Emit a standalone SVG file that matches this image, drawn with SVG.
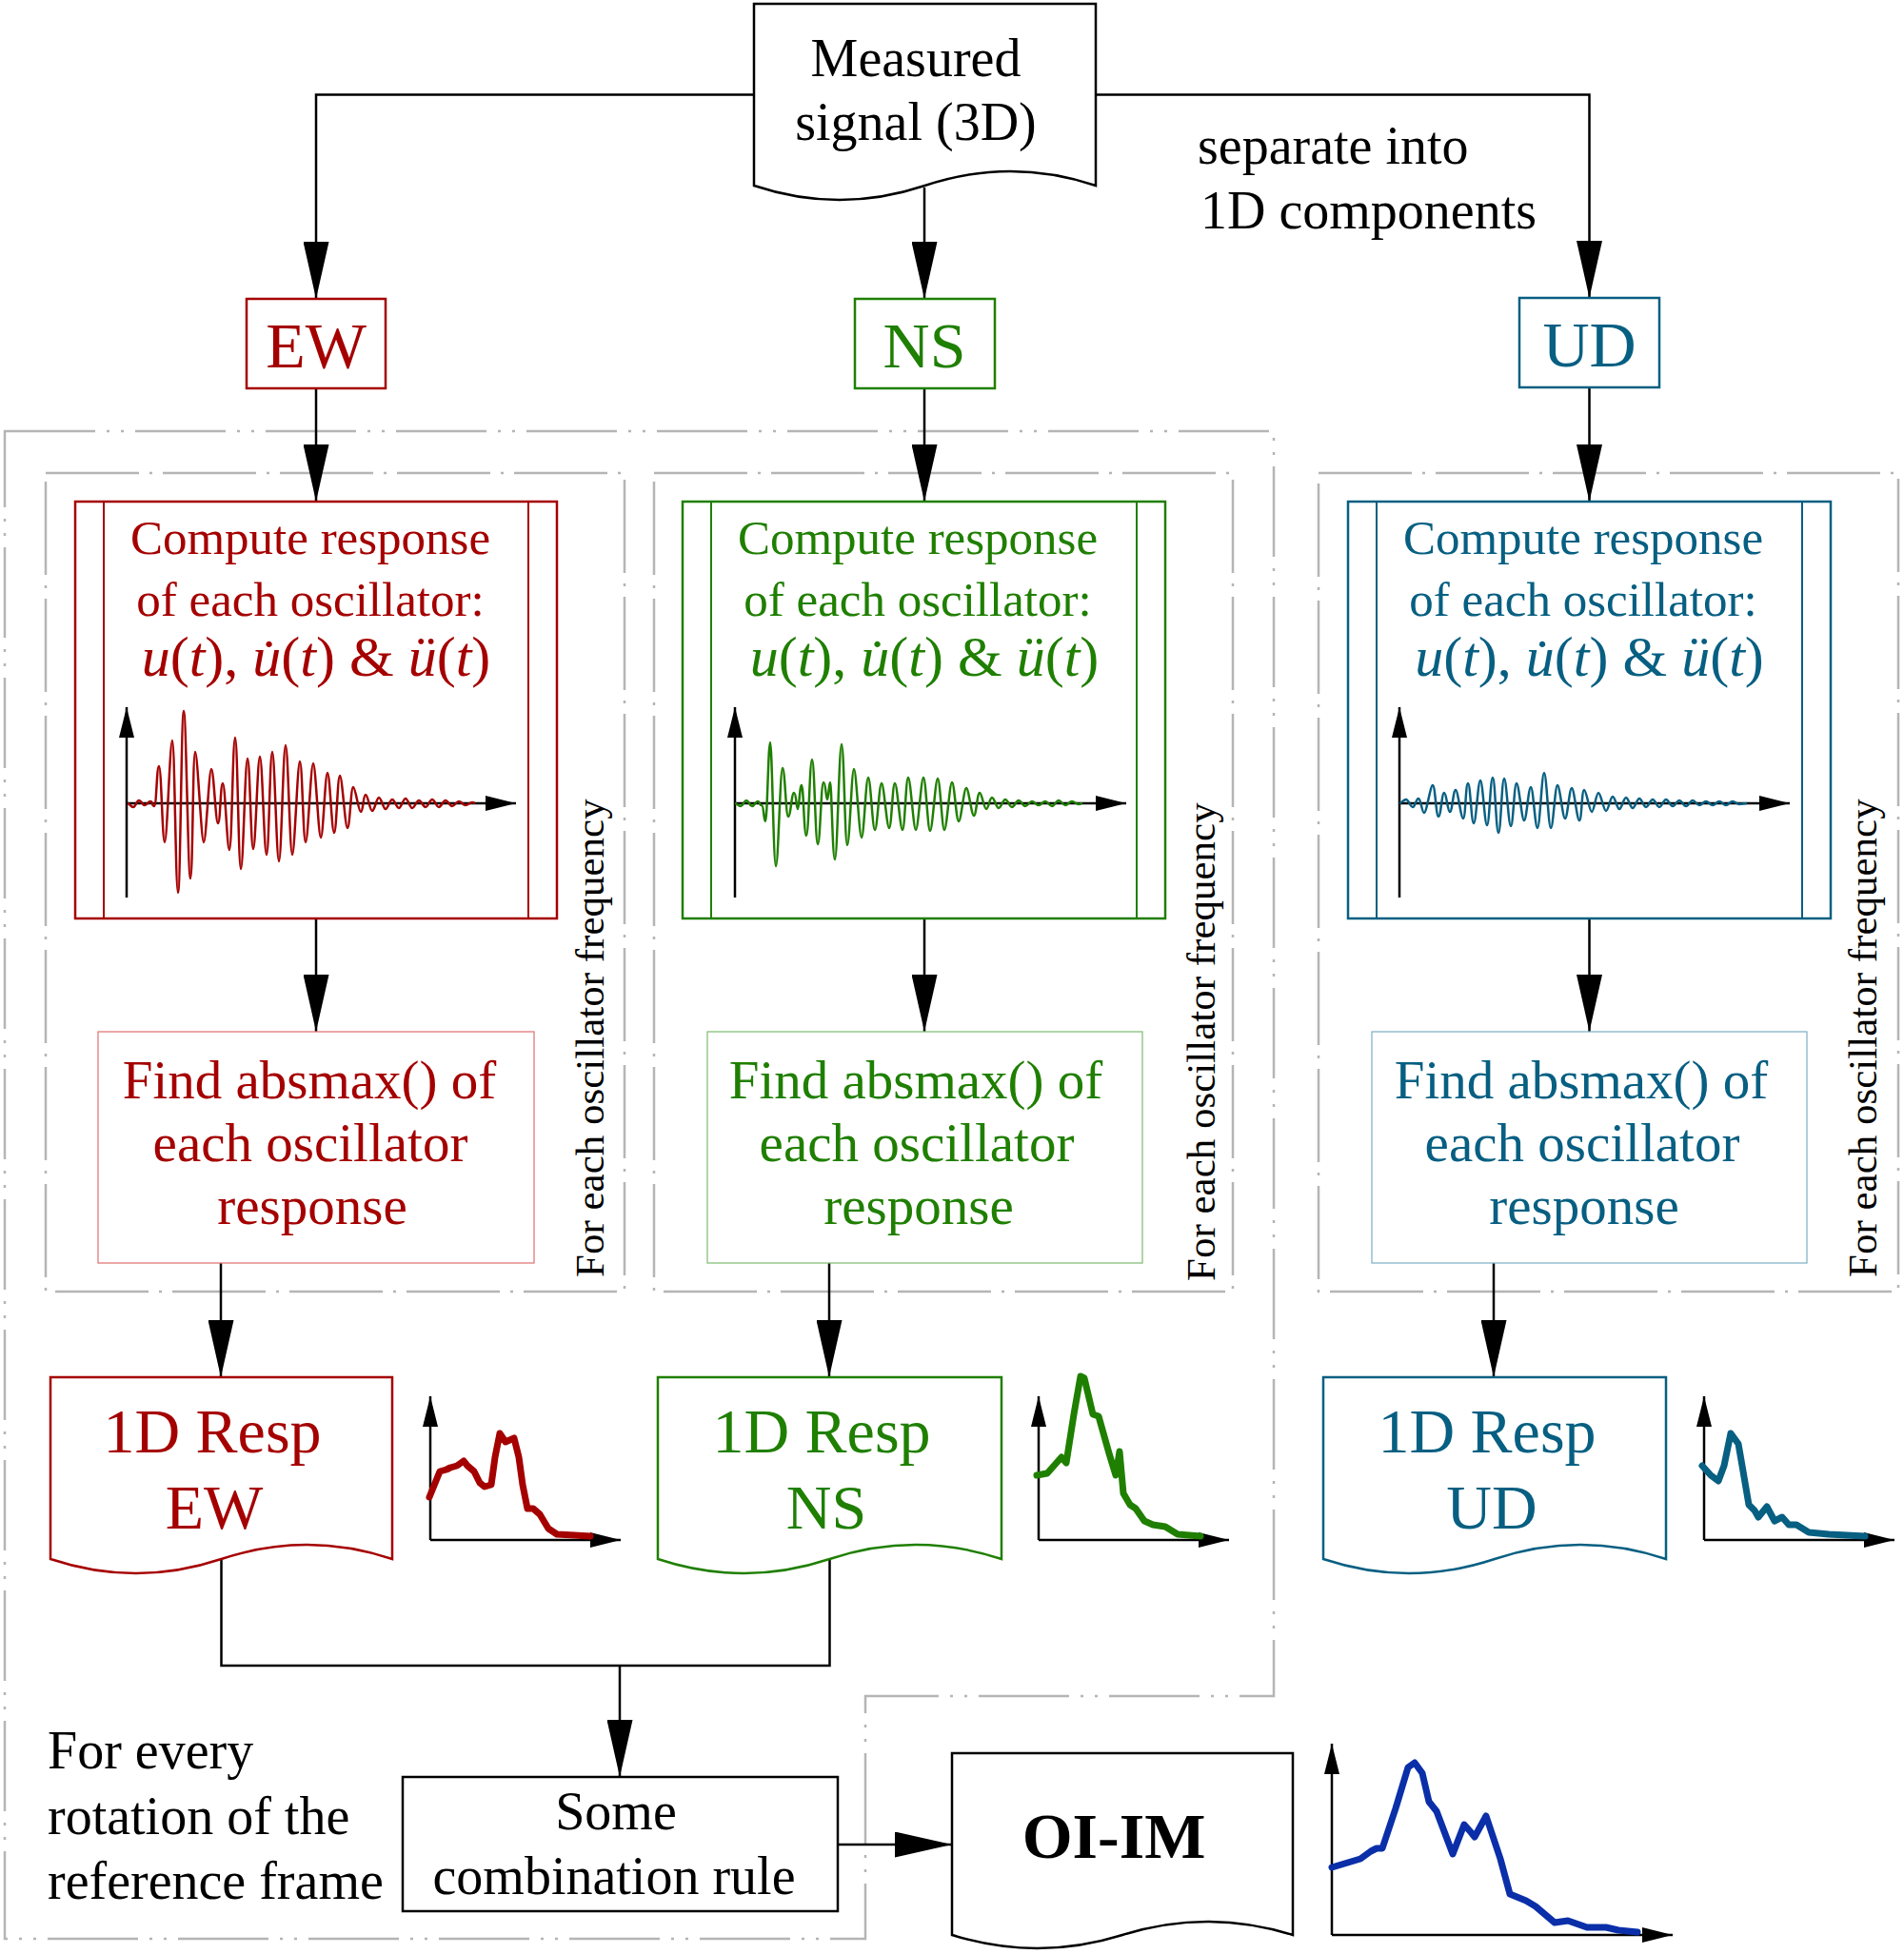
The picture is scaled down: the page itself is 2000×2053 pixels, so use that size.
<svg xmlns="http://www.w3.org/2000/svg" width="2000" height="2053" viewBox="0 0 2000 2053">
<style>
text{font-family:"Liberation Serif","Times New Roman",serif}
.conn{stroke:#000;stroke-width:2.5;fill:none}
.axis{stroke:#000;stroke-width:2.5;fill:none}
.fo{stroke:#b5b5b5;stroke-width:2.5;fill:none;stroke-dasharray:95 12 3 12 3 12}
.fi{stroke:#b5b5b5;stroke-width:2.5;fill:none;stroke-dasharray:98 11 3 11}
.red{fill:#a50000}.grn{fill:#1f7f00}.blu{fill:#075f82}
.sred{stroke:#a50000}.sgrn{stroke:#1f7f00}.sblu{stroke:#075f82}
.box{fill:#fff;stroke-width:2.5}
.find{fill:#fff;stroke-width:1.3}
.wave{fill:none;stroke-width:2.5}
.spec{fill:none;stroke-width:7;stroke-linejoin:round;stroke-linecap:round}
.t56{font-size:56px}
.t51{font-size:51px}
.math{font-size:60px}
.t57{font-size:57px}
.t66{font-size:66px}
.t68{font-size:68px}
.rot{font-size:43px;fill:#000}
</style>
<defs>
<marker id="ah" viewBox="0 0 60 27" refX="60" refY="13.5" markerWidth="60" markerHeight="27" orient="auto" markerUnits="userSpaceOnUse"><path d="M0,0 L60,13.5 L0,27 Z" fill="#000"/></marker>
<marker id="sa" viewBox="0 0 32 16" refX="32" refY="8" markerWidth="32" markerHeight="16" orient="auto" markerUnits="userSpaceOnUse"><path d="M0,0 L32,8 L0,16 Z" fill="#000"/></marker>
</defs>
<rect width="2000" height="2053" fill="#fff"/>

<g id="frames">
<path class="fo" d="M5,453 H1338 V1782 H909 V2037 H5 Z"/>
<rect class="fi" x="48" y="497" width="608" height="860"/>
<rect class="fi" x="687" y="497" width="608" height="860"/>
<rect class="fi" x="1385" y="497" width="609" height="860"/>
<text class="rot" transform="translate(634,1342) rotate(-90)">For each oscillator frequency</text>
<text class="rot" transform="translate(1276,1346) rotate(-90)">For each oscillator frequency</text>
<text class="rot" transform="translate(1971,1342) rotate(-90)">For each oscillator frequency</text>
</g>

<g id="connectors">
<path class="conn" d="M792,99.5 H332 V314" marker-end="url(#ah)"/>
<path class="conn" d="M1151,99.5 H1669.5 V313" marker-end="url(#ah)"/>
<path class="conn" d="M971,197 V314" marker-end="url(#ah)"/>
<path class="conn" d="M332,408 V527" marker-end="url(#ah)"/>
<path class="conn" d="M971,408 V527" marker-end="url(#ah)"/>
<path class="conn" d="M1669.5,407 V527" marker-end="url(#ah)"/>
<path class="conn" d="M332,965 V1084" marker-end="url(#ah)"/>
<path class="conn" d="M971,965 V1084" marker-end="url(#ah)"/>
<path class="conn" d="M1669.5,965 V1084" marker-end="url(#ah)"/>
<path class="conn" d="M232,1327 V1447" marker-end="url(#ah)"/>
<path class="conn" d="M871,1327 V1447" marker-end="url(#ah)"/>
<path class="conn" d="M1569,1327 V1447" marker-end="url(#ah)"/>
<path class="conn" d="M232.5,1638 V1750 H871.5 V1638"/>
<path class="conn" d="M651,1750 V1867" marker-end="url(#ah)"/>
<path class="conn" d="M880,1938 H1000" marker-end="url(#ah)"/>
</g>

<g id="measured">
<path d="M792,195 V4 H1151 V195 Q1061.25,165 971.5,195 Q881.75,225 792,195 Z" fill="#fff" stroke="#000" stroke-width="2.5"/>
<text class="t56" x="962" y="80" text-anchor="middle">Measured</text>
<text class="t56" x="962" y="147" text-anchor="middle">signal (3D)</text>
</g>
<g id="separate-label">
<text class="t56" x="1258" y="172">separate into</text>
<text class="t56" x="1261" y="240">1D components</text>
</g>

<g id="ew">
<rect class="box sred" x="259" y="314" width="146" height="94"/>
<text class="t68 red" x="332" y="386" text-anchor="middle">EW</text>
</g>
<g id="ns">
<rect class="box sgrn" x="898" y="314" width="147" height="94"/>
<text class="t68 grn" x="971" y="386" text-anchor="middle">NS</text>
</g>
<g id="ud">
<rect class="box sblu" x="1596" y="313" width="147" height="94"/>
<text class="t68 blu" x="1669.5" y="385" text-anchor="middle">UD</text>
</g>

<g id="compute-ew">
<rect class="box sred" x="79" y="527" width="506" height="438"/>
<path class="sred" stroke-width="2" d="M109,527 V965 M555,527 V965"/>
<text class="t51 red" text-anchor="middle"><tspan x="326" y="582">Compute response</tspan><tspan x="326" y="647">of each oscillator:</tspan></text>
<text class="math red" x="332" y="710" text-anchor="middle"><tspan font-style="italic">u</tspan>(<tspan font-style="italic">t</tspan>), <tspan font-style="italic">u&#x307;</tspan>(<tspan font-style="italic">t</tspan>) &amp; <tspan font-style="italic">ü</tspan>(<tspan font-style="italic">t</tspan>)</text>
<path class="axis" d="M133,943 V743" marker-end="url(#sa)"/>
<path class="axis" d="M133,844 H542" marker-end="url(#sa)"/>
<path class="wave sred" d="M134,844 C136,844 137.5,848 140,848 S143.5,841 146,841 S149.5,846 152,846 S155.5,842 158,842 S159.5,847 162,847 S164.5,805 167,805 S170.5,885 173,885 S178.5,778 181,778 S184.5,938 187,938 S190.5,747 193,747 S197.5,923 200,923 S202.5,790 205,790 S211.5,885 214,885 S219.5,808 222,808 S226.5,865 229,865 S231.5,823 234,823 S238.5,893 241,893 S244.5,775 247,775 S250.5,913 253,913 S257.5,797 260,797 S263.5,892 266,892 S270.5,795 273,795 S277.5,898 280,898 S283.5,790 286,790 S290.5,905 293,905 S297.5,783 300,783 S304.5,898 307,898 S312.5,800 315,800 S318.5,885 321,885 S326.5,802 329,802 S334.5,880 337,880 S341.5,812 344,812 S348.5,875 351,875 S354.5,815 357,815 S362.5,870 365,870 S368.5,827 371,827 S376.5,853 379,853 S381.5,835 384,835 S388.5,852 391,852 S395.5,838 398,838 S402.5,850 405,850 S409.5,840 412,840 S416.5,849 419,849 S423.5,839 426,839 S430.5,849 433,849 S437.5,841 440,841 S444.5,848 447,848 S451.5,840 454,840 S458.5,848 461,848 S465.5,841 468,841 S472.5,847 475,847 S479.5,842 482,842 S486.5,846 489,846 S493.5,843 496,843 S498,844 499,844"/>
</g>

<g id="compute-ns">
<rect class="box sgrn" x="717" y="527" width="507" height="438"/>
<path class="sgrn" stroke-width="2" d="M747,527 V965 M1194,527 V965"/>
<text class="t51 grn" text-anchor="middle"><tspan x="964" y="582">Compute response</tspan><tspan x="964" y="647">of each oscillator:</tspan></text>
<text class="math grn" x="971" y="710" text-anchor="middle"><tspan font-style="italic">u</tspan>(<tspan font-style="italic">t</tspan>), <tspan font-style="italic">u&#x307;</tspan>(<tspan font-style="italic">t</tspan>) &amp; <tspan font-style="italic">ü</tspan>(<tspan font-style="italic">t</tspan>)</text>
<path class="axis" d="M772,943 V743" marker-end="url(#sa)"/>
<path class="axis" d="M772,844 H1183" marker-end="url(#sa)"/>
<path class="wave sgrn" d="M772,844 C774,844 775.5,847 778,847 S781.5,841 784,841 S787.5,847 790,847 S793.5,842 796,842 S797.5,846 800,846 S802,863 804,863 S807,780 809,780 S812.5,910 815,910 S819.5,807 822,807 S825.5,858 828,858 S831.5,833 834,833 S836.5,850 838,850 S840,825 842,825 S844.5,878 847,878 S850.5,798 853,798 S856.5,887 859,887 S862.5,822 865,822 S867.5,840 869,840 S870.5,822 872,822 S874.5,903 877,903 S881.5,782 884,782 S887.5,888 890,888 S894.5,808 897,808 S902.5,880 905,880 S909.5,817 912,817 S916.5,872 919,872 S923.5,823 926,823 S931.5,870 934,870 S937.5,823 940,823 S945.5,872 948,872 S951.5,817 954,817 S959.5,872 962,872 S967.5,817 970,817 S974.5,873 977,873 S982.5,818 985,818 S989.5,872 992,872 S997.5,822 1000,822 S1004.5,863 1007,863 S1012.5,828 1015,828 S1020.5,857 1023,857 S1026.5,833 1029,833 S1033.5,850 1036,850 S1039.5,838 1042,838 S1046.5,849 1049,849 S1053.5,840 1056,840 S1060.5,848 1063,848 S1067.5,841 1070,841 S1074.5,847 1077,847 S1081.5,842 1084,842 S1088.5,846 1091,846 S1095.5,842 1098,842 S1102.5,847 1105,847 S1109.5,841 1112,841 S1116.5,846 1119,846 S1123.5,842 1126,842 S1130.5,845 1133,845 S1135.5,844 1137,844"/>
</g>

<g id="compute-ud">
<rect class="box sblu" x="1416" y="527" width="507" height="438"/>
<path class="sblu" stroke-width="2" d="M1446,527 V965 M1893,527 V965"/>
<text class="t51 blu" text-anchor="middle"><tspan x="1663" y="582">Compute response</tspan><tspan x="1663" y="647">of each oscillator:</tspan></text>
<text class="math blu" x="1669.5" y="710" text-anchor="middle"><tspan font-style="italic">u</tspan>(<tspan font-style="italic">t</tspan>), <tspan font-style="italic">u&#x307;</tspan>(<tspan font-style="italic">t</tspan>) &amp; <tspan font-style="italic">ü</tspan>(<tspan font-style="italic">t</tspan>)</text>
<path class="axis" d="M1470,943 V743" marker-end="url(#sa)"/>
<path class="axis" d="M1470,844 H1880" marker-end="url(#sa)"/>
<path class="wave sblu" d="M1470,844 C1472,844 1474.5,840 1477,840 S1481.5,848 1484,848 S1487.5,839 1490,839 S1493.5,854 1496,854 S1502.5,825 1505,825 S1508.5,858 1511,858 S1514.5,833 1517,833 S1520.5,853 1523,853 S1526.5,830 1529,830 S1534.5,860 1537,860 S1539.5,823 1542,823 S1545.5,865 1548,865 S1552.5,820 1555,820 S1559.5,867 1562,867 S1565.5,817 1568,817 S1571.5,875 1574,875 S1577.5,818 1580,818 S1584.5,868 1587,868 S1590.5,823 1593,823 S1598.5,862 1601,862 S1605.5,827 1608,827 S1612.5,870 1615,870 S1619.5,812 1622,812 S1626.5,870 1629,870 S1633.5,825 1636,825 S1641.5,860 1644,860 S1648.5,828 1651,828 S1656.5,862 1659,862 S1661.5,830 1664,830 S1669.5,853 1672,853 S1676.5,833 1679,833 S1684.5,852 1687,852 S1691.5,837 1694,837 S1698.5,850 1701,850 S1705.5,838 1708,838 S1712.5,849 1715,849 S1719.5,839 1722,839 S1726.5,848 1729,848 S1733.5,840 1736,840 S1740.5,848 1743,848 S1747.5,840 1750,840 S1754.5,847 1757,847 S1761.5,841 1764,841 S1768.5,847 1771,847 S1775.5,841 1778,841 S1782.5,846 1785,846 S1789.5,842 1792,842 S1796.5,846 1799,846 S1803.5,842 1806,842 S1810.5,846 1813,846 S1817.5,842 1820,842 S1824.5,845 1827,845 S1832,844 1835,844"/>
</g>

<g id="find-ew">
<rect class="find" stroke="#e07a7a" x="103" y="1084" width="458" height="243"/>
<text class="t57 red" text-anchor="middle"><tspan x="325" y="1154">Find absmax() of</tspan><tspan x="326" y="1220">each oscillator</tspan><tspan x="328" y="1286">response</tspan></text>
</g>
<g id="find-ns">
<rect class="find" stroke="#86c07a" x="743" y="1084" width="457" height="243"/>
<text class="t57 grn" text-anchor="middle"><tspan x="962" y="1154">Find absmax() of</tspan><tspan x="963" y="1220">each oscillator</tspan><tspan x="965" y="1286">response</tspan></text>
</g>
<g id="find-ud">
<rect class="find" stroke="#86b4c8" x="1441" y="1084" width="457" height="243"/>
<text class="t57 blu" text-anchor="middle"><tspan x="1661" y="1154">Find absmax() of</tspan><tspan x="1662" y="1220">each oscillator</tspan><tspan x="1664" y="1286">response</tspan></text>
</g>

<g id="resp-ew">
<path class="box sred" d="M53,1638 V1447 H412 V1638 Q322.25,1608 232.5,1638 Q142.75,1668 53,1638 Z"/>
<text class="t66 red" text-anchor="middle"><tspan x="223" y="1526">1D Resp</tspan><tspan x="225" y="1606">EW</tspan></text>
<path class="axis" d="M452,1618 V1467" marker-end="url(#sa)"/>
<path class="axis" d="M452,1618 H652" marker-end="url(#sa)"/>
<polyline class="spec sred" points="451,1573 462,1546 469,1544 473,1542 480,1540 487,1535 491,1540 498,1546 504,1558 509,1562 516,1560 520,1531 525,1506 531,1515 540,1511 545,1531 549,1560 554,1585 560,1585 567,1591 576,1606 585,1612 603,1613 620,1614"/>
</g>
<g id="resp-ns">
<path class="box sgrn" d="M691,1638 V1447 H1052 V1638 Q961.75,1608 871.5,1638 Q781.25,1668 691,1638 Z"/>
<text class="t66 grn" text-anchor="middle"><tspan x="863" y="1526">1D Resp</tspan><tspan x="868" y="1606">NS</tspan></text>
<path class="axis" d="M1091,1618 V1467" marker-end="url(#sa)"/>
<path class="axis" d="M1091,1618 H1291" marker-end="url(#sa)"/>
<polyline class="spec sgrn" points="1089,1550 1100,1548 1115,1531 1120,1537 1128,1486 1135,1446 1139,1448 1148,1486 1154,1488 1165,1527 1172,1550 1176,1525 1180,1569 1187,1581 1193,1585 1202,1598 1211,1602 1224,1604 1237,1612 1261,1614"/>
</g>
<g id="resp-ud">
<path class="box sblu" d="M1390,1638 V1447 H1750 V1638 Q1660,1608 1570,1638 Q1480,1668 1390,1638 Z"/>
<text class="t66 blu" text-anchor="middle"><tspan x="1562" y="1526">1D Resp</tspan><tspan x="1567" y="1606">UD</tspan></text>
<path class="axis" d="M1790,1618 V1467" marker-end="url(#sa)"/>
<path class="axis" d="M1790,1618 H1990" marker-end="url(#sa)"/>
<polyline class="spec sblu" points="1788,1540 1797,1550 1805,1556 1811,1540 1818,1506 1826,1517 1830,1540 1837,1581 1843,1587 1847,1594 1856,1583 1864,1598 1872,1594 1879,1602 1887,1602 1900,1610 1921,1612 1959,1614"/>
</g>

<g id="rotation-label">
<text class="t56" x="50" y="1858">For every</text>
<text class="t56" x="50" y="1927">rotation of the</text>
<text class="t56" x="50" y="1995">reference frame</text>
</g>

<g id="combination">
<rect class="box" stroke="#000" x="423" y="1867" width="457" height="141"/>
<text class="t56" x="647" y="1922" text-anchor="middle">Some</text>
<text class="t56" x="645" y="1990" text-anchor="middle">combination rule</text>
</g>

<g id="oi-im">
<path class="box" stroke="#000" d="M1000,2033 V1842 H1358 V2033 Q1268.5,2005 1179,2033 Q1089.5,2061 1000,2033 Z"/>
<text x="1170" y="1952" font-size="68" font-weight="bold" text-anchor="middle">OI-IM</text>
<path class="axis" d="M1399,2033 V1832" marker-end="url(#sa)"/>
<path class="axis" d="M1399,2033 H1757" marker-end="url(#sa)"/>
<polyline class="spec" stroke="#0a2fa8" points="1399,1962 1429,1953 1440,1945 1446,1942 1452,1942 1466,1900 1479,1857 1486,1852 1494,1863 1501,1893 1509,1903 1526,1948 1538,1917 1545,1925 1549,1930 1561,1908 1576,1953 1586,1990 1603,1997 1613,2003 1633,2020 1647,2018 1667,2025 1687,2025 1700,2028 1720,2030"/>
</g>
</svg>
